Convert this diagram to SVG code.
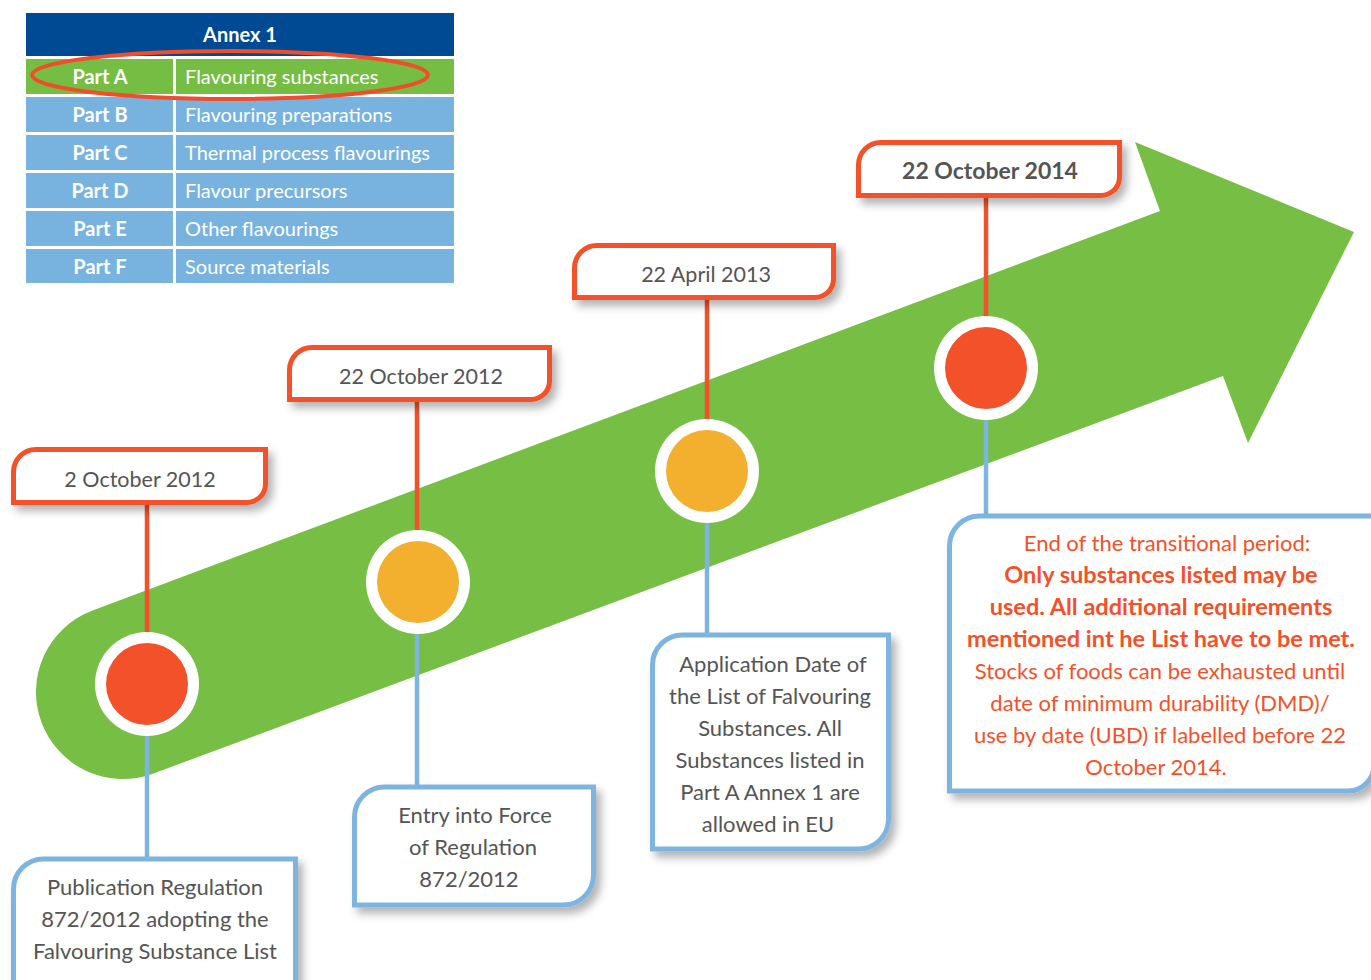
<svg xmlns="http://www.w3.org/2000/svg" width="1371" height="980" viewBox="0 0 1371 980">
<defs>
<filter id="sh" x="-10%" y="-20%" width="130%" height="150%">
<feDropShadow dx="5" dy="6" stdDeviation="4" flood-color="#000" flood-opacity="0.3"/>
</filter>
<style>
.date{fill:#fff;stroke:#f25129;stroke-width:5;filter:url(#sh)}
.desc{fill:#fff;stroke:#7db5e0;stroke-width:5;filter:url(#sh)}
.dt{font-family:Lato,"Liberation Sans",sans-serif;font-size:21.5px;fill:#555;text-anchor:middle}
.dtb{font-size:23px;font-weight:bold}
.tx{font-family:Lato,"Liberation Sans",sans-serif;font-size:22px;fill:#555;text-anchor:middle}
.rt{font-family:Lato,"Liberation Sans",sans-serif;font-size:22px;fill:#f25129;text-anchor:middle}
.rb{font-weight:bold;font-size:23.5px}
.b{font-weight:bold}
.red{stroke:#f25129;stroke-width:4.5}
.blue{stroke:#7db5e0;stroke-width:4.5}
.th{font-family:Lato,"Liberation Sans",sans-serif;font-size:20px;fill:#fff}
.lb{fill:#78b3e0}
</style>
</defs>
<rect width="1371" height="980" fill="#fff"/>

<g id="table">
<rect x="26" y="13" width="428" height="43" fill="#004a93"/>
<rect x="26" y="59" width="147" height="35" fill="#76bd43"/>
<rect x="176" y="59" width="278" height="35" fill="#76bd43"/>
<rect class="lb" x="26" y="97" width="147" height="35"/>
<rect class="lb" x="176" y="97" width="278" height="35"/>
<rect class="lb" x="26" y="135" width="147" height="35"/>
<rect class="lb" x="176" y="135" width="278" height="35"/>
<rect class="lb" x="26" y="173" width="147" height="35"/>
<rect class="lb" x="176" y="173" width="278" height="35"/>
<rect class="lb" x="26" y="211" width="147" height="35"/>
<rect class="lb" x="176" y="211" width="278" height="35"/>
<rect class="lb" x="26" y="249" width="147" height="34"/>
<rect class="lb" x="176" y="249" width="278" height="34"/>
<text class="th b" x="240" y="42" text-anchor="middle">Annex 1</text>
<text class="th b" x="100" y="84" text-anchor="middle">Part A</text>
<text class="th b" x="100" y="122" text-anchor="middle">Part B</text>
<text class="th b" x="100" y="160" text-anchor="middle">Part C</text>
<text class="th b" x="100" y="198" text-anchor="middle">Part D</text>
<text class="th b" x="100" y="236" text-anchor="middle">Part E</text>
<text class="th b" x="100" y="274" text-anchor="middle">Part F</text>
<text class="th" x="185" y="84">Flavouring substances</text>
<text class="th" x="185" y="122">Flavouring preparations</text>
<text class="th" x="185" y="160">Thermal process flavourings</text>
<text class="th" x="185" y="198">Flavour precursors</text>
<text class="th" x="185" y="236">Other flavourings</text>
<text class="th" x="185" y="274">Source materials</text>
<ellipse cx="230" cy="75" rx="198" ry="24" fill="none" stroke="#f04e2a" stroke-width="4"/>
</g>

<g id="arrow">
<path d="M92.5 610.5 L1160 211 L1135 142 L1354 232 L1248 443 L1223 376 L153.5 773.5 A87 87 0 0 1 92.5 610.5 Z" fill="#77bf44"/>
</g>

<g id="connectors">
<line class="red" x1="147" y1="504" x2="147" y2="634"/>
<line class="blue" x1="147" y1="734" x2="147" y2="860"/>
<line class="red" x1="417" y1="401" x2="417" y2="532"/>
<line class="blue" x1="417" y1="632" x2="417" y2="788"/>
<line class="red" x1="707" y1="299" x2="707" y2="421"/>
<line class="blue" x1="707" y1="521" x2="707" y2="636"/>
<line class="red" x1="986" y1="196" x2="986" y2="318"/>
<line class="blue" x1="986" y1="418" x2="986" y2="517"/>
</g>

<g id="m1">
<circle cx="147" cy="684" r="52" fill="#fff"/>
<circle cx="147" cy="684" r="41" fill="#f25129"/>
</g>
<g id="m2">
<circle cx="418" cy="582" r="52" fill="#fff"/>
<circle cx="418" cy="582" r="41" fill="#f2b02e"/>
</g>
<g id="m3">
<circle cx="707" cy="471" r="52" fill="#fff"/>
<circle cx="707" cy="471" r="41" fill="#f2b02e"/>
</g>
<g id="m4">
<circle cx="986" cy="368" r="52" fill="#fff"/>
<circle cx="986" cy="368" r="41" fill="#f25129"/>
</g>

<g id="d1">
<path class="date" d="M13.5 472 A22.5 22.5 0 0 1 36 449.5 L265.5 449.5 L265.5 484 A18.5 18.5 0 0 1 247 502.5 L13.5 502.5 Z"/>
<text class="dt" x="140" y="487">2 October 2012</text>
</g>
<g id="d2">
<path class="date" d="M289.5 370 A22.5 22.5 0 0 1 312 347.5 L549.5 347.5 L549.5 381 A18.5 18.5 0 0 1 531 399.5 L289.5 399.5 Z"/>
<text class="dt" x="421" y="384">22 October 2012</text>
</g>
<g id="d3">
<path class="date" d="M574.5 268 A22.5 22.5 0 0 1 597 245.5 L833.5 245.5 L833.5 279 A18.5 18.5 0 0 1 815 297.5 L574.5 297.5 Z"/>
<text class="dt" x="706" y="282">22 April 2013</text>
</g>
<g id="d4">
<path class="date" d="M858.5 165 A22.5 22.5 0 0 1 881 142.5 L1119.5 142.5 L1119.5 177 A18.5 18.5 0 0 1 1101 195.5 L858.5 195.5 Z"/>
<text class="dt dtb" x="990" y="179">22 October 2014</text>
</g>

<g id="b1">
<path class="desc" d="M13.5 889 A30 30 0 0 1 43.5 859 L295.5 859 L295.5 1000 L13.5 1000 Z"/>
<text class="tx" x="155" y="895">Publication Regulation</text>
<text class="tx" x="155" y="927">872/2012 adopting the</text>
<text class="tx" x="155" y="959">Falvouring Substance List</text>
</g>
<g id="b2">
<path class="desc" d="M354.5 817 A30 30 0 0 1 384.5 787 L593.5 787 L593.5 875 A30 30 0 0 1 563.5 905 L354.5 905 Z"/>
<text class="tx" x="475" y="823">Entry into Force</text>
<text class="tx" x="473" y="855">of Regulation</text>
<text class="tx" x="469" y="887">872/2012</text>
</g>
<g id="b3">
<path class="desc" d="M652.5 665 A30 30 0 0 1 682.5 635 L888.5 635 L888.5 819 A30 30 0 0 1 858.5 849 L652.5 849 Z"/>
<text class="tx" x="773" y="672">Application Date of</text>
<text class="tx" x="770" y="704">the List of Falvouring</text>
<text class="tx" x="770" y="736">Substances. All</text>
<text class="tx" x="770" y="768">Substances listed in</text>
<text class="tx" x="770" y="800">Part A Annex 1 are</text>
<text class="tx" x="768" y="832">allowed in EU</text>
</g>
<g id="b4">
<path class="desc" d="M949.5 546 A30 30 0 0 1 979.5 516 L1374 516 L1374 765 A26 26 0 0 1 1348 791 L949.5 791 Z"/>
<text class="rt" x="1167" y="551">End of the transitional period:</text>
<text class="rt rb" x="1161" y="583">Only substances listed may be</text>
<text class="rt rb" x="1161" y="615">used. All additional requirements</text>
<text class="rt rb" x="1161" y="647">mentioned int he List have to be met.</text>
<text class="rt" x="1160" y="679">Stocks of foods can be exhausted until</text>
<text class="rt" x="1160" y="711">date of minimum durability (DMD)/</text>
<text class="rt" x="1160" y="743">use by date (UBD) if labelled before 22</text>
<text class="rt" x="1156" y="775">October 2014.</text>
</g>
</svg>
